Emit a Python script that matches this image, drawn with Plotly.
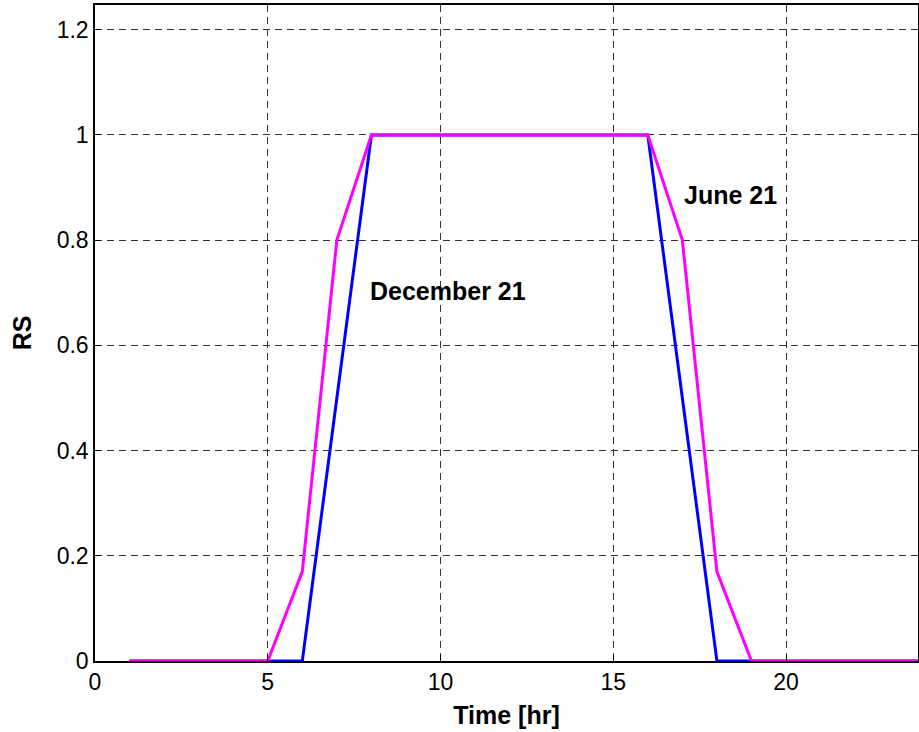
import plotly.graph_objects as go

hours = list(range(1, 25))
dec21 = [0, 0, 0, 0, 0, 0, 0.5, 1, 1, 1, 1, 1, 1, 1, 1, 1, 0.5, 0, 0, 0, 0, 0, 0, 0]
jun21 = [0, 0, 0, 0, 0, 0.17, 0.8, 1, 1, 1, 1, 1, 1, 1, 1, 1, 0.8, 0.17, 0, 0, 0, 0, 0, 0]
x_ticks = [0, 5, 10, 15, 20]
y_ticks = [0, 0.2, 0.4, 0.6, 0.8, 1, 1.2]
y_tick_text = ["0", "0.2", "0.4", "0.6", "0.8", "1", "1.2"]

FONT = "Liberation Sans, Arial, sans-serif"

fig = go.Figure()
fig.add_trace(go.Scatter(x=hours, y=dec21, mode="lines", line=dict(color="#0000ff", width=3), name="December 21"))
fig.add_trace(go.Scatter(x=hours, y=jun21, mode="lines", line=dict(color="#ff00ff", width=3), name="June 21"))

fig.add_annotation(x=10.23, y=0.704, text="<b>December 21</b>", showarrow=False,
                   font=dict(family=FONT, size=25, color="black"))
fig.add_annotation(x=18.4, y=0.885, text="<b>June 21</b>", showarrow=False,
                   font=dict(family=FONT, size=25, color="black"))

axis_common = dict(
    showline=True, mirror=True, linecolor="black", linewidth=1.5,
    showgrid=True, gridcolor="#333333", griddash="7px,5px", gridwidth=1,
    ticks="inside", ticklen=6, tickcolor="black",
    zeroline=False, automargin=False,
    tickfont=dict(family=FONT, size=23, color="black"),
)

fig.update_xaxes(range=[0, 23.82], tickvals=x_ticks,
                 title=dict(text="<b>Time [hr]</b>", font=dict(family=FONT, size=25, color="black"), standoff=12),
                 **axis_common)
fig.update_yaxes(range=[0, 1.247], tickvals=y_ticks, ticktext=y_tick_text,
                 title=dict(text="<b>RS</b>", font=dict(family=FONT, size=25, color="black"), standoff=18),
                 **axis_common)

fig.update_layout(
    width=919, height=732,
    margin=dict(l=95, r=1, t=5, b=71),
    plot_bgcolor="white", paper_bgcolor="white",
    showlegend=False,
)

fig.write_html("out.html", config={"displayModeBar": False},
               post_script="document.body.style.margin='0';")
